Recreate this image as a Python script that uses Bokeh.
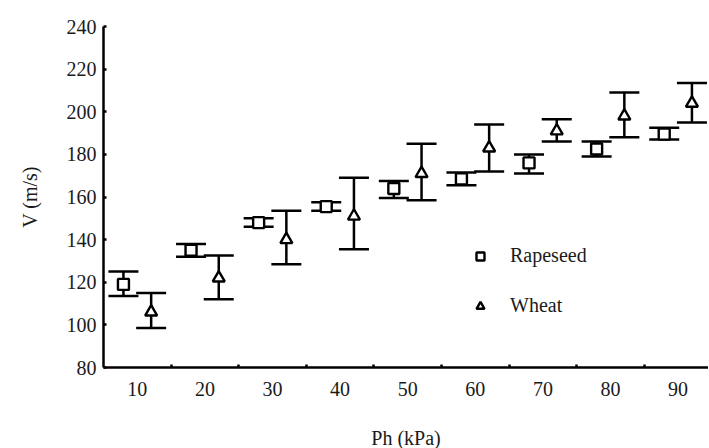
import numpy as np
from bokeh.plotting import figure
from bokeh.models import (ColumnDataSource, Range1d, FixedTicker, Whisker, TeeHead)
from bokeh.embed import file_html
from bokeh.resources import INLINE

# ---- data ----
categories = ["10", "20", "30", "40", "50", "60", "70", "80", "90"]
rapeseed_v = [119, 135, 148, 155.5, 164, 168.5, 176, 182.5, 189.5]
rapeseed_hi = [125, 138, 150, 157.5, 167.5, 171.5, 180, 186, 192.5]
rapeseed_lo = [113.5, 132, 146, 153.5, 159.5, 165.5, 171, 179, 187]
wheat_v = [106, 122, 140, 151, 171, 183, 191, 198, 204]
wheat_hi = [115, 132.5, 153.5, 169, 185, 194, 196.5, 209, 213.5]
wheat_lo = [98.5, 112, 128.5, 135.5, 158.5, 172, 186, 188, 195]
y_ticks = [80, 100, 120, 140, 160, 180, 200, 220, 240]

FONT = "Liberation Serif"
TXT = "#1a1a1a"

idx = np.arange(1, len(categories) + 1)
offset = 0.205

src_r = ColumnDataSource(dict(x=idx - offset, v=rapeseed_v, upper=rapeseed_hi, lower=rapeseed_lo))
src_w = ColumnDataSource(dict(x=idx + offset, v=wheat_v, upper=wheat_hi, lower=wheat_lo))

p = figure(frame_width=605, frame_height=341,
           x_range=Range1d(0.5, 9.45), y_range=Range1d(y_ticks[0], y_ticks[-1]),
           min_border_left=103, min_border_right=0, min_border_top=26, min_border_bottom=20,
           output_backend="svg", toolbar_location=None)
p.outline_line_color = None
p.xgrid.grid_line_color = None
p.ygrid.grid_line_color = None
p.background_fill_color = "white"
p.border_fill_color = "white"

for src in (src_r, src_w):
    w = Whisker(base="x", upper="upper", lower="lower", source=src, dimension="height",
                line_color="black", line_width=2.5,
                upper_head=TeeHead(size=30, line_width=2.5, line_color="black"),
                lower_head=TeeHead(size=30, line_width=2.5, line_color="black"))
    p.add_layout(w)

p.scatter("x", "v", source=src_r, marker="square", size=11, fill_color="white",
          line_color="black", line_width=2.4, legend_label="Rapeseed")
p.scatter("x", "v", source=src_w, marker="triangle", size=12, fill_color="white",
          line_color="black", line_width=2.4, legend_label="Wheat")

# x axis
xa = p.xaxis[0]
xa.ticker = FixedTicker(ticks=list(idx), minor_ticks=list(idx[:-1] + 0.5))
xa.major_label_overrides = {int(i): c for i, c in zip(idx, categories)}
xa.major_tick_line_color = None
xa.minor_tick_in = 3
xa.minor_tick_out = 0
xa.minor_tick_line_width = 2.5
xa.axis_label = "Ph (kPa)"
xa.major_label_standoff = 8
xa.axis_label_standoff = 28

# y axis
ya = p.yaxis[0]
ya.ticker = FixedTicker(ticks=y_ticks)
ya.major_tick_in = 3
ya.major_tick_out = 0
ya.major_tick_line_width = 2.5
ya.minor_tick_line_color = None
ya.axis_label = "V (m/s)"
ya.major_label_standoff = 7
ya.axis_label_standoff = 23

for ax in (xa, ya):
    ax.axis_line_width = 2.5
    ax.axis_line_color = "black"
    ax.major_label_text_font = FONT
    ax.major_label_text_font_size = "20px"
    ax.major_label_text_color = TXT
    ax.axis_label_text_font = FONT
    ax.axis_label_text_font_size = "20px"
    ax.axis_label_text_font_style = "normal"
    ax.axis_label_text_color = TXT

lg = p.legend[0]
lg.location = (367, 50)
lg.border_line_color = None
lg.background_fill_alpha = 0
lg.padding = 0
lg.margin = 0
lg.spacing = 27
lg.glyph_width = 20
lg.glyph_height = 20
lg.label_height = 20
lg.label_standoff = 20
lg.label_text_font = FONT
lg.label_text_font_size = "20px"
lg.label_text_color = TXT

open("out.html", "w").write(file_html(p, INLINE))
